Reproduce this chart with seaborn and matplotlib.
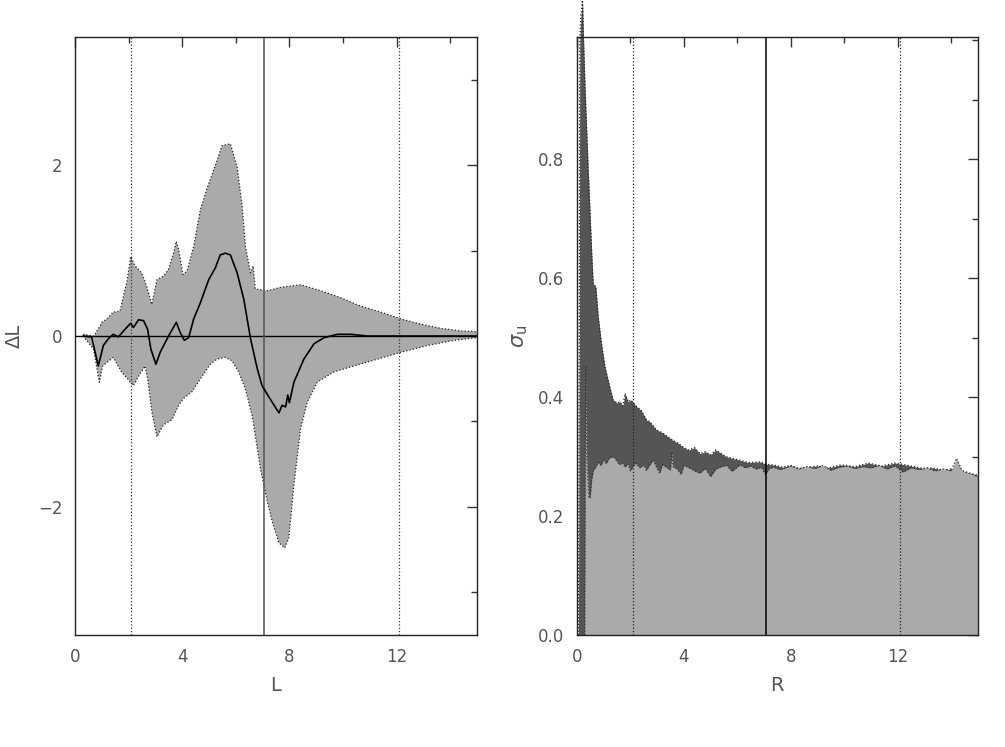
import numpy as np
import pandas as pd
import matplotlib
matplotlib.use("Agg")
import matplotlib.pyplot as plt
import seaborn as sns
from matplotlib.ticker import MultipleLocator

# left panel: mean curve and spread band
mean_x = [0.3, 0.62, 0.87, 1.06, 1.25, 1.43, 1.62, 1.87, 2.08, 2.18, 2.37, 2.56, 2.71, 2.83,
          3.02, 3.18, 3.49, 3.78, 3.93, 4.08, 4.24, 4.43, 4.68, 4.99, 5.24, 5.42, 5.61, 5.8,
          6.05, 6.3, 6.55, 6.8, 6.98, 7.23, 7.61, 7.73, 7.86, 7.94, 8.0, 8.17, 8.54, 8.92,
          9.29, 9.79, 10.3, 10.9, 12.0, 13.0, 14.0, 15.0]
mean_y = [0.0, -0.01, -0.35, -0.11, -0.03, 0.02, -0.01, 0.08, 0.15, 0.10, 0.19, 0.18, 0.08, -0.15,
          -0.33, -0.19, 0.0, 0.16, 0.04, -0.05, -0.02, 0.20, 0.39, 0.66, 0.80, 0.95, 0.97, 0.95,
          0.74, 0.43, -0.03, -0.38, -0.58, -0.71, -0.90, -0.81, -0.83, -0.69, -0.78, -0.54, -0.27, -0.09,
          -0.02, 0.02, 0.02, 0.0, 0.0, 0.0, 0.0, 0.0]

upper_x = [0.3, 0.7, 0.94, 1.0, 1.19, 1.43, 1.68, 1.81, 1.93, 2.08, 2.24, 2.49, 2.68, 2.87, 3.06,
           3.30, 3.49, 3.68, 3.78, 3.87, 4.03, 4.18, 4.43, 4.68, 4.93, 5.24, 5.49, 5.80, 6.05,
           6.24, 6.36, 6.55, 6.65, 6.73, 7.17, 7.67, 8.42, 9.17, 9.91, 10.66, 11.41, 12.16,
           12.9, 13.65, 14.4, 15.0]
upper_y = [0.02, 0.0, 0.12, 0.16, 0.20, 0.28, 0.29, 0.47, 0.62, 0.93, 0.82, 0.74, 0.58, 0.37, 0.66,
           0.70, 0.78, 0.97, 1.11, 1.01, 0.72, 0.76, 1.05, 1.48, 1.73, 2.0, 2.23, 2.25, 1.98,
           1.52, 1.05, 0.74, 0.82, 0.55, 0.53, 0.57, 0.60, 0.53, 0.45, 0.35, 0.28, 0.20,
           0.14, 0.09, 0.06, 0.05]

lower_x = [0.3, 0.69, 0.91, 1.03, 1.43, 1.74, 2.18, 2.43, 2.62, 2.71, 2.87, 3.06, 3.30, 3.62,
           3.87, 4.05, 4.37, 4.68, 5.05, 5.30, 5.61, 5.86, 6.11, 6.36, 6.61, 6.92, 7.17, 7.36,
           7.61, 7.83, 7.98, 8.17, 8.42, 8.67, 9.04, 9.66, 10.41, 11.29, 12.16, 13.16, 14.15, 15.0]
lower_y = [0.0, -0.15, -0.54, -0.35, -0.25, -0.42, -0.58, -0.44, -0.35, -0.50, -0.89, -1.18, -1.04, -0.98,
           -0.81, -0.73, -0.65, -0.50, -0.33, -0.27, -0.25, -0.29, -0.42, -0.62, -0.93, -1.55, -1.93, -2.17,
           -2.42, -2.48, -2.36, -1.74, -1.08, -0.77, -0.54, -0.42, -0.35, -0.27, -0.19, -0.11, -0.05, -0.02]

# right panel: two sigma profiles
dark_x = [0.06, 0.09, 0.11, 0.15, 0.21, 0.25, 0.30, 0.42, 0.55, 0.61, 0.71, 0.80, 0.92, 1.05, 1.23,
          1.36, 1.50, 1.61, 1.72, 1.80, 1.92, 2.02, 2.23, 2.40, 2.61, 2.72, 2.97, 3.2, 3.41, 3.6,
          3.80, 4.0, 4.18, 4.4, 4.6, 4.81, 5.0, 5.19, 5.4, 5.57, 5.8, 6.08, 6.4, 6.84, 7.1, 7.35,
          7.7, 8.0, 8.3, 8.62, 9.0, 9.4, 9.88, 10.4, 10.9, 11.4, 11.9, 12.4, 12.93, 13.3, 13.69,
          14.0, 14.2, 14.4, 14.7, 14.96, 15.0]
dark_y = [0.0, 0.5, 1.0, 1.04, 1.067, 1.0, 0.927, 0.787, 0.647, 0.591, 0.585, 0.535, 0.49, 0.451, 0.417,
          0.395, 0.39, 0.392, 0.385, 0.406, 0.392, 0.395, 0.384, 0.378, 0.361, 0.359, 0.345, 0.34, 0.333, 0.327,
          0.322, 0.315, 0.311, 0.315, 0.305, 0.308, 0.303, 0.311, 0.305, 0.300, 0.297, 0.294, 0.290, 0.291, 0.287, 0.286,
          0.282, 0.285, 0.280, 0.282, 0.284, 0.281, 0.286, 0.283, 0.289, 0.284, 0.289, 0.285, 0.280, 0.281, 0.277,
          0.279, 0.278, 0.276, 0.272, 0.269, 0.268]

light_x = [0.29, 0.31, 0.34, 0.37, 0.45, 0.50, 0.55, 0.62, 0.7, 0.8, 0.9, 1.0, 1.1, 1.2, 1.36, 1.5, 1.6,
           1.7, 1.8, 1.9, 2.0, 2.1, 2.2, 2.35, 2.5, 2.6, 2.7, 2.85, 3.0, 3.1, 3.2, 3.35, 3.5, 3.55, 3.6,
           3.75, 3.9, 4.0, 4.2, 4.4, 4.6, 4.8, 5.0, 5.2, 5.4, 5.6, 5.8, 6.1, 6.3, 6.5, 6.7, 6.9, 7.05,
           7.2, 7.35, 7.6, 7.8, 8.0, 8.3, 8.6, 8.9, 9.2, 9.5, 9.8, 10.1, 10.4, 10.7, 11.0, 11.3, 11.6,
           11.9, 12.2, 12.5, 12.8, 13.1, 13.4, 13.7, 14.0, 14.2, 14.4, 14.6, 14.8, 15.0]
light_y = [0.0, 0.30, 0.451, 0.30, 0.23, 0.232, 0.26, 0.277, 0.282, 0.290, 0.285, 0.294, 0.288, 0.297, 0.30,
           0.292, 0.286, 0.290, 0.282, 0.288, 0.276, 0.283, 0.289, 0.281, 0.286, 0.277, 0.284, 0.294, 0.280,
           0.272, 0.286, 0.282, 0.277, 0.308, 0.283, 0.279, 0.270, 0.285, 0.281, 0.276, 0.272, 0.280, 0.266,
           0.279, 0.283, 0.285, 0.275, 0.286, 0.281, 0.284, 0.279, 0.282, 0.270, 0.280, 0.282, 0.278, 0.281,
           0.284, 0.279, 0.283, 0.280, 0.285, 0.277, 0.282, 0.284, 0.280, 0.283, 0.281, 0.285, 0.279, 0.284,
           0.274, 0.281, 0.278, 0.281, 0.276, 0.279, 0.276, 0.297, 0.277, 0.273, 0.270, 0.266]

marker_lines = [2.1, 12.1]   # dotted
solid_line = 7.07

sns.set_style("white")
plt.rcParams['font.family'] = ['DejaVu Sans']
txt = '#555555'

fig = plt.figure(figsize=(10.05, 7.47), dpi=100)
ax1 = fig.add_axes([0.0746, 0.1499, 0.4, 0.8005])
ax2 = fig.add_axes([0.574, 0.1499, 0.399, 0.8005])

# --- left panel
band_x = upper_x + lower_x[::-1]
band_y = upper_y + lower_y[::-1]
ax1.fill(band_x, band_y, color='#aaaaaa', lw=0, zorder=1)
sns.lineplot(x=upper_x, y=upper_y, ax=ax1, color='#222222', lw=0.9, linestyle=':', estimator=None, zorder=2)
sns.lineplot(x=lower_x, y=lower_y, ax=ax1, color='#222222', lw=0.9, linestyle=':', estimator=None, zorder=2)
ax1.axhline(0, color='black', lw=1, zorder=3)
sns.lineplot(x=mean_x, y=mean_y, ax=ax1, color='black', lw=1.2, estimator=None, zorder=4)
for v in marker_lines:
    ax1.axvline(v, color='#333333', lw=0.9, linestyle=':', zorder=3)
ax1.axvline(solid_line, color='#555555', lw=1.1, zorder=3)
ax1.set_xlim(0, 15)
ax1.set_ylim(-3.5, 3.5)
ax1.xaxis.set_major_locator(MultipleLocator(4))
ax1.xaxis.set_minor_locator(MultipleLocator(2))
ax1.yaxis.set_major_locator(MultipleLocator(2))
ax1.yaxis.set_minor_locator(MultipleLocator(1))
ax1.set_xlabel('L', fontsize=14, color=txt)
ax1.set_ylabel('ΔL', fontsize=14, color=txt)
ax1.xaxis.set_label_coords(0.5, -0.068)
ax1.yaxis.set_label_coords(-0.127, 0.5)

# --- right panel
ax2.fill_between(dark_x, 0, dark_y, color='#555555', lw=0, zorder=1, clip_on=False)
sns.lineplot(x=dark_x, y=dark_y, ax=ax2, color='#222222', lw=0.9, linestyle=':', estimator=None,
             zorder=2, clip_on=False)
ax2.fill_between(light_x, 0, light_y, color='#aaaaaa', lw=0, zorder=3)
sns.lineplot(x=light_x, y=light_y, ax=ax2, color='#333333', lw=0.9, linestyle=':', estimator=None, zorder=4)
for v in marker_lines:
    ax2.axvline(v, color='#222222', lw=0.9, linestyle=':', zorder=5)
ax2.axvline(solid_line, color='black', lw=1.1, zorder=5)
ax2.set_xlim(0, 15)
ax2.set_ylim(0, 1.005)
ax2.xaxis.set_major_locator(MultipleLocator(4))
ax2.xaxis.set_minor_locator(MultipleLocator(2))
ax2.set_yticks([0.0, 0.2, 0.4, 0.6, 0.8])
ax2.yaxis.set_minor_locator(MultipleLocator(0.1))
ax2.set_xlabel('R', fontsize=14, color=txt)
ax2.set_ylabel(r'$\sigma_{\rm u}$', fontsize=15, color=txt)
ax2.xaxis.set_label_coords(0.5, -0.068)
ax2.yaxis.set_label_coords(-0.117, 0.5)

for ax in (ax1, ax2):
    ax.tick_params(which='both', direction='in', top=True, right=True, colors='#333333',
                   labelcolor=txt, labelsize=12)
    ax.tick_params(which='major', length=7, width=1, pad=9)
    ax.tick_params(which='minor', length=4, width=1)
    for s in ax.spines.values():
        s.set_color('#222222')
        s.set_linewidth(1)
        s.set_zorder(6)
    ax.set_facecolor('white')

fig.savefig('out.png', dpi=100)
